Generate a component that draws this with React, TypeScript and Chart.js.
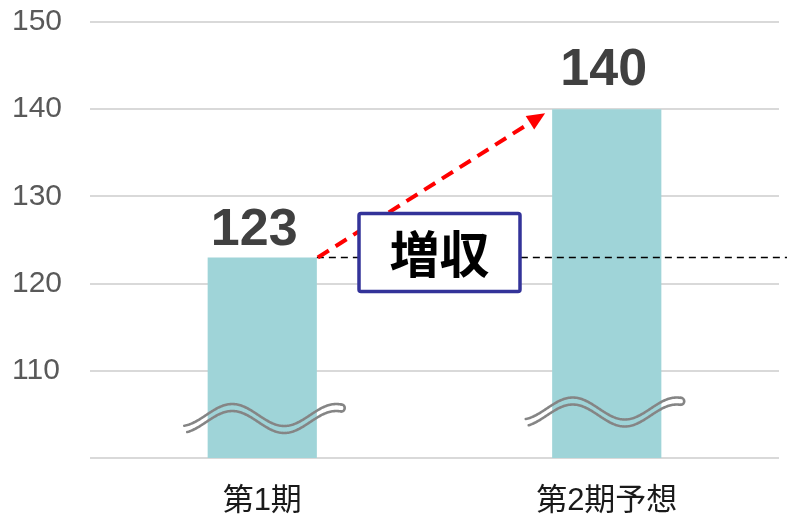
import React, { useEffect, useRef } from 'react';
import { Chart, registerables } from 'chart.js';
Chart.register(...registerables);

const categories = ['第1期', '第2期予想'];
const values = [123, 140];
const yMin = 100;
const yMax = 150;
const yStep = 10;
const hiddenTicks = [100];
const calloutText = '増収';

const BAR_COLOR = '#9fd4d8';
const LATIN = '"Liberation Sans", Arial, "Noto Sans CJK JP", sans-serif';
const CJK = '"Noto Sans CJK JP", "Liberation Sans", sans-serif';

function drawWave(ctx: CanvasRenderingContext2D, cx: number, midY: number, x0: number, x1: number, xp: number) {
  const A = 11;
  const period = 104;
  const gap = 7;
  ctx.save();
  ctx.strokeStyle = '#858585';
  ctx.lineWidth = 2.6;
  ctx.lineCap = 'round';
  ctx.lineJoin = 'round';
  const yAt = (x: number) => midY - A * Math.cos((2 * Math.PI * (x - xp)) / period);
  for (const dy of [0, gap]) {
    ctx.beginPath();
    const start = x0 + (dy ? 3 : 0);
    for (let x = start; x <= x1; x += 1) {
      const y = yAt(x) + dy;
      if (x === start) ctx.moveTo(cx + x, y);
      else ctx.lineTo(cx + x, y);
    }
    ctx.stroke();
  }
  const ye = yAt(x1);
  ctx.beginPath();
  ctx.arc(cx + x1, ye + gap / 2, gap / 2, -Math.PI / 2, Math.PI / 2);
  ctx.stroke();
  ctx.restore();
}

export default function App() {
  const ref = useRef<HTMLCanvasElement>(null);
  useEffect(() => {
    const canvas = ref.current!;
    const annot = {
      id: 'annot',
      afterDatasetsDraw(chart: any) {
        const ctx: CanvasRenderingContext2D = chart.ctx;
        const meta = chart.getDatasetMeta(0);
        const ys = chart.scales.y;
        const area = chart.chartArea;
        const bars = meta.data as any[];
        const b0 = bars[0];
        const b1 = bars[1];
        const b0Right = b0.x + b0.width / 2;
        const b1Left = b1.x - b1.width / 2;
        const y0 = ys.getPixelForValue(values[0]);
        const y1 = ys.getPixelForValue(values[1]);

        drawWave(ctx, b0.x, area.bottom - 43, -78, 79, -30);
        drawWave(ctx, b1.x, area.bottom - 49.5, -81, 74, -34);

        ctx.save();
        ctx.fillStyle = '#404040';
        ctx.font = `bold 52px ${LATIN}`;
        ctx.textAlign = 'center';
        ctx.textBaseline = 'alphabetic';
        ctx.fillText(String(values[0]), b0.x - 8, y0 - 12);
        ctx.fillText(String(values[1]), b1.x - 3, y1 - 24);
        ctx.restore();

        ctx.save();
        ctx.strokeStyle = '#000';
        ctx.lineWidth = 1.5;
        ctx.setLineDash([7, 5]);
        ctx.beginPath();
        ctx.moveTo(b0Right, y0);
        ctx.lineTo(chart.width, y0);
        ctx.stroke();
        ctx.restore();

        const sx = b0Right + 1;
        const sy = y0;
        const ex = b1Left - 7;
        const ey = y1 + 4;
        const ang = Math.atan2(ey - sy, ex - sx);
        const headLen = 18;
        const headW = 8;
        const lx = ex - headLen * Math.cos(ang);
        const ly = ey - headLen * Math.sin(ang);
        ctx.save();
        ctx.strokeStyle = '#ff0000';
        ctx.fillStyle = '#ff0000';
        ctx.lineWidth = 4;
        ctx.setLineDash([13, 8]);
        ctx.beginPath();
        ctx.moveTo(sx, sy);
        ctx.lineTo(lx, ly);
        ctx.stroke();
        ctx.setLineDash([]);
        ctx.beginPath();
        ctx.moveTo(ex, ey);
        ctx.lineTo(lx + headW * Math.sin(ang), ly - headW * Math.cos(ang));
        ctx.lineTo(lx - headW * Math.sin(ang), ly + headW * Math.cos(ang));
        ctx.closePath();
        ctx.fill();
        ctx.restore();

        const bw = 161;
        const bh = 78;
        const bcx = (b0Right + b1Left) / 2 + 5;
        const bcy = y0 - 5;
        ctx.save();
        ctx.fillStyle = '#ffffff';
        ctx.strokeStyle = '#333399';
        ctx.lineWidth = 3.5;
        ctx.beginPath();
        if ((ctx as any).roundRect) (ctx as any).roundRect(bcx - bw / 2, bcy - bh / 2, bw, bh, 2);
        else ctx.rect(bcx - bw / 2, bcy - bh / 2, bw, bh);
        ctx.fill();
        ctx.stroke();
        ctx.fillStyle = '#000';
        ctx.font = `bold 50px ${CJK}`;
        ctx.textAlign = 'center';
        ctx.textBaseline = 'middle';
        ctx.fillText(calloutText, bcx, bcy + 2);
        ctx.restore();
      },
    };

    const chart = new Chart(canvas, {
      type: 'bar',
      data: {
        labels: categories,
        datasets: [
          {
            data: values,
            backgroundColor: BAR_COLOR,
            borderWidth: 0,
            barPercentage: 1,
            categoryPercentage: 0.317,
          },
        ],
      },
      options: {
        responsive: false,
        animation: false,
        devicePixelRatio: 1,
        layout: { padding: { top: 22, right: 8, left: 12, bottom: 0 } },
        plugins: { legend: { display: false }, tooltip: { enabled: false } },
        scales: {
          x: {
            grid: { display: false, drawTicks: false },
            border: { display: false },
            ticks: {
              color: '#1a1a1a',
              font: { size: 31, family: '"Liberation Sans", "Noto Sans CJK JP", sans-serif' },
              padding: 25,
              maxRotation: 0,
            },
            afterFit: (s: any) => {
              s.height = 64;
            },
          },
          y: {
            min: yMin,
            max: yMax,
            grid: { color: '#d9d9d9', lineWidth: 2, drawTicks: false },
            border: { display: false },
            ticks: {
              stepSize: yStep,
              color: '#595959',
              font: { size: 30, family: LATIN },
              padding: 0,
              crossAlign: 'far',
              callback: (v: any) => (hiddenTicks.includes(Number(v)) ? '' : String(v)),
            },
            afterFit: (s: any) => {
              s.width = 78;
            },
          },
        },
      },
      plugins: [annot],
    });
    return () => chart.destroy();
  }, []);

  return (
    <div style={{ position: 'fixed', left: 0, top: 0, width: 787, height: 522, background: '#fff' }}>
      <canvas ref={ref} width={787} height={522} style={{ display: 'block' }} />
    </div>
  );
}
